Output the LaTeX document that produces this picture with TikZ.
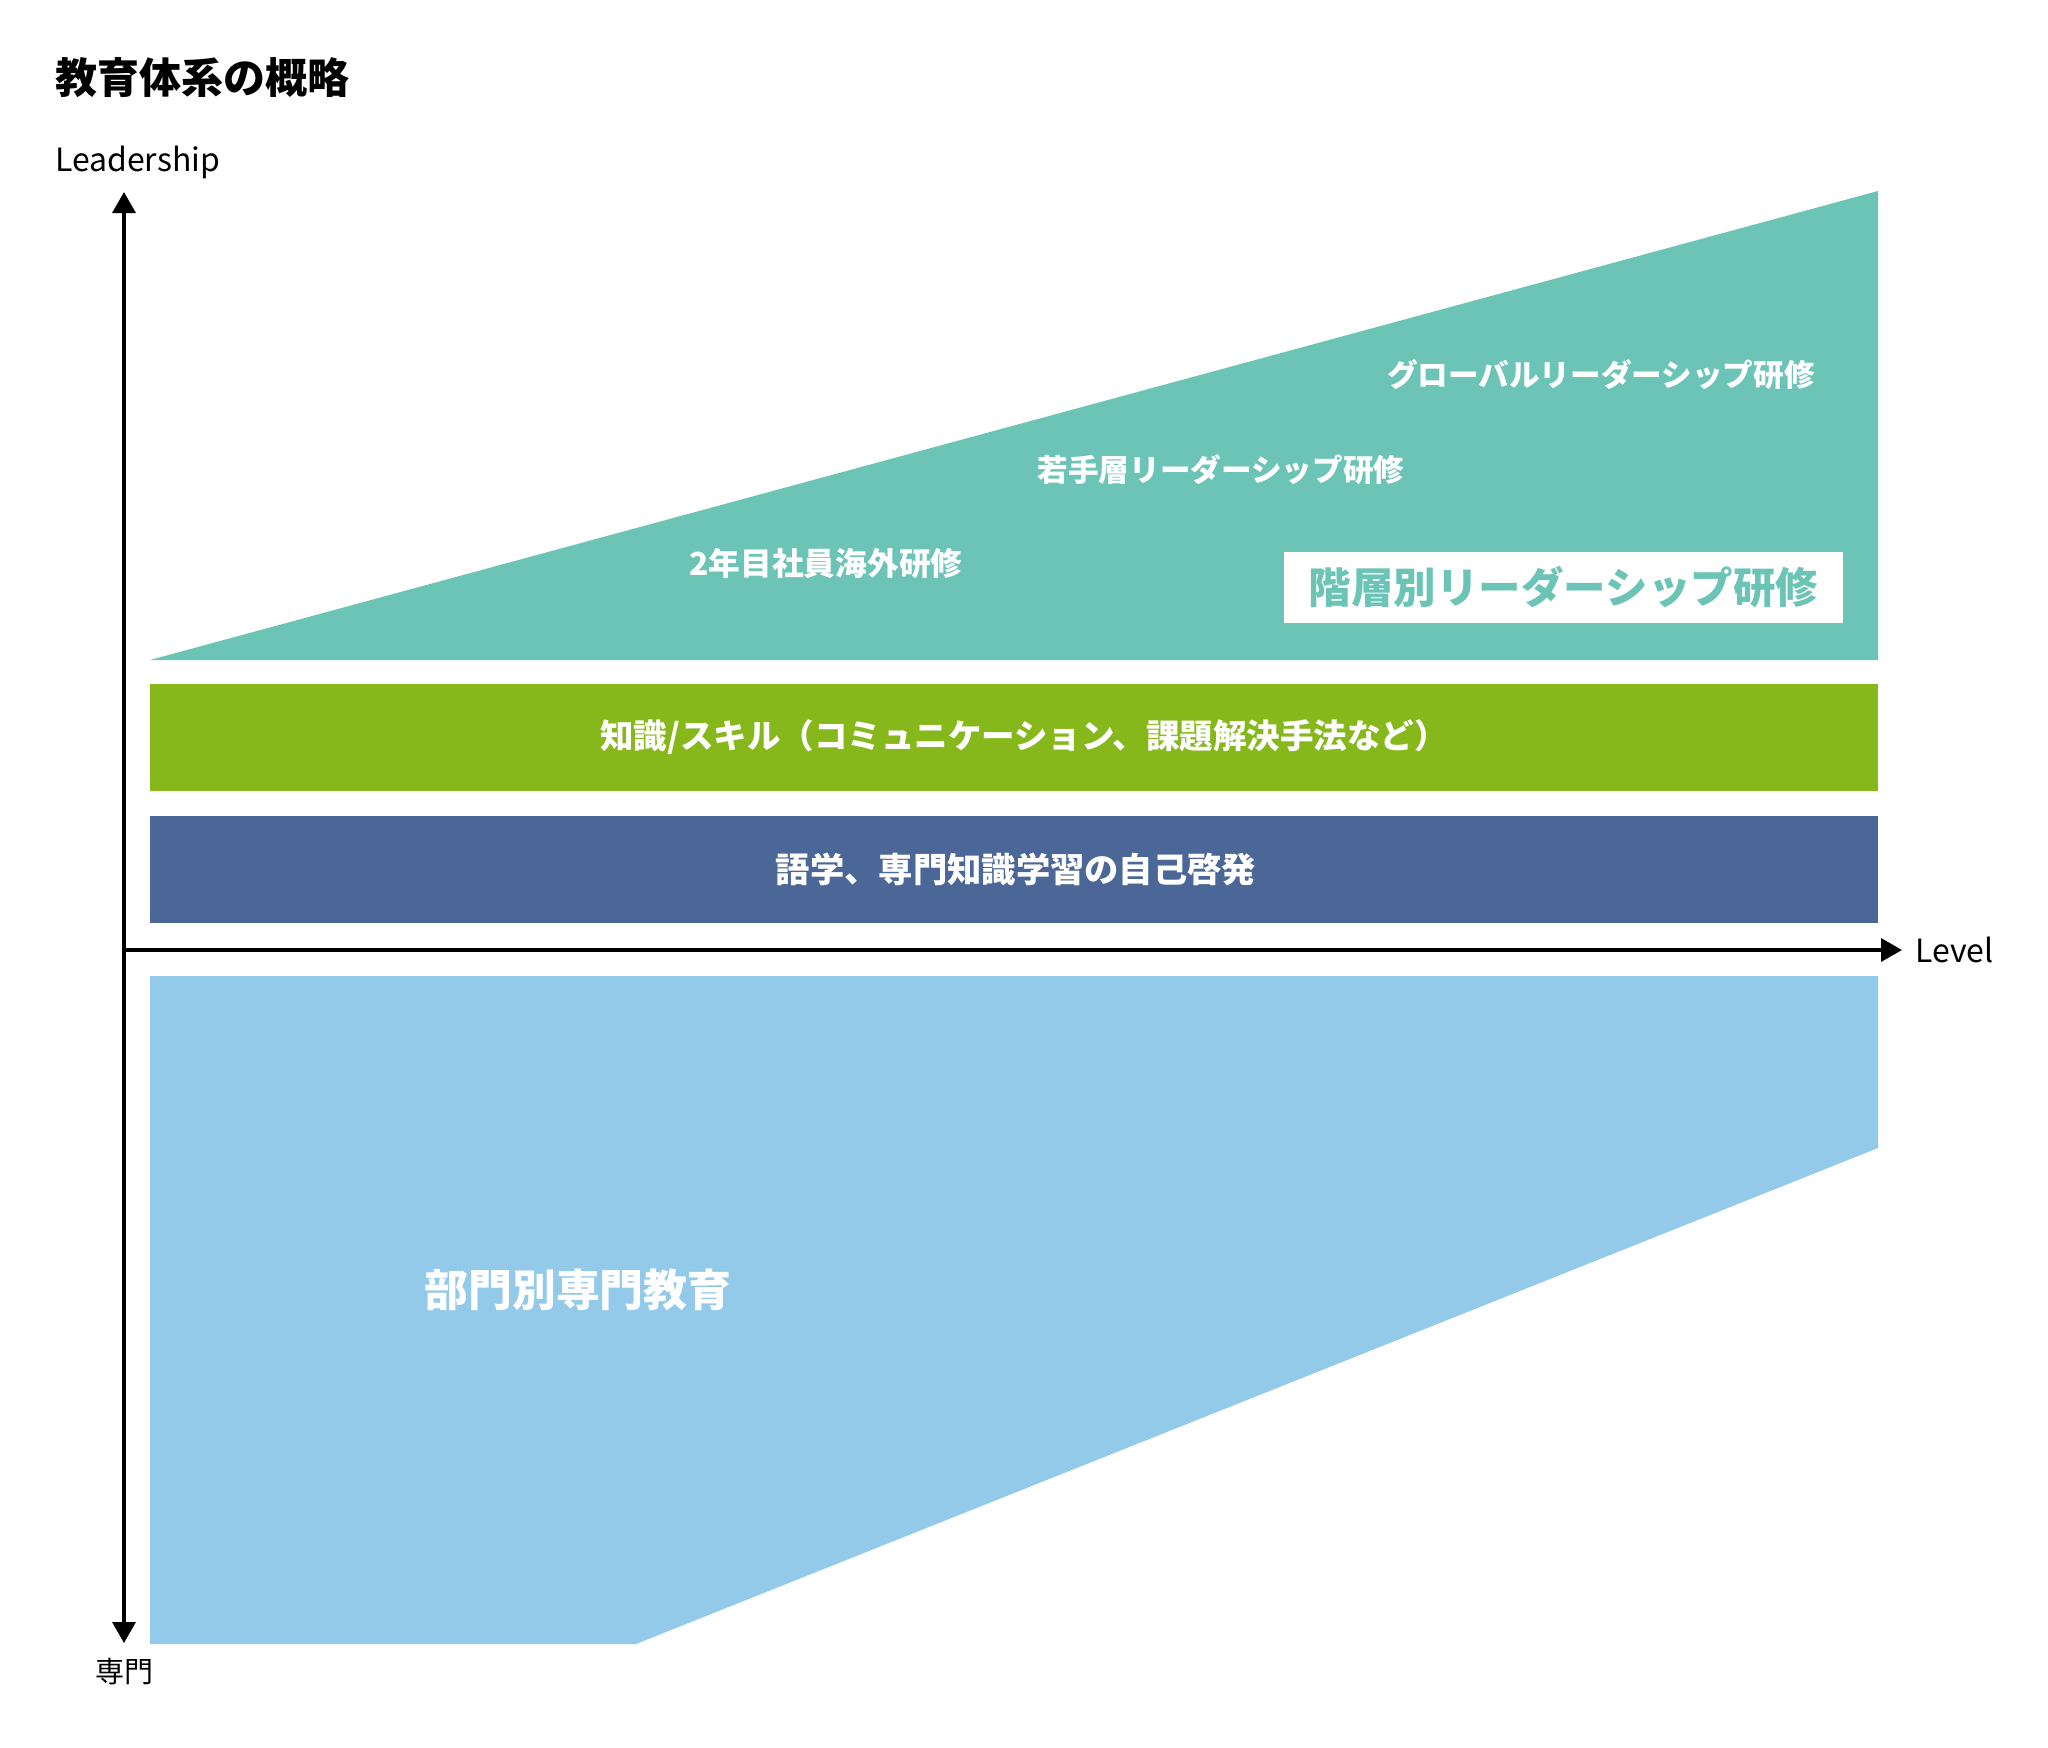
\documentclass[tikz,border=0pt]{standalone}
\usepackage{fontspec}
\setmainfont{Noto Sans CJK JP}
\usetikzlibrary{arrows.meta}
\definecolor{teal1}{HTML}{6CC4B6}
\definecolor{green1}{HTML}{86B81C}
\definecolor{navy1}{HTML}{4B6797}
\definecolor{sky1}{HTML}{93CAEA}
\tikzset{
  axisline/.style={line width=3.5pt, -{Triangle[length=21pt,width=23pt]}},
  whitelbl/.style={text=white, font=\fontsize{30.6}{36}\selectfont\bfseries, inner sep=0pt},
  barbox/.style={minimum width=1728pt, minimum height=107pt, inner sep=0pt},
  bartext/.style={text=white, inner sep=0pt, font=\fontsize{33.5}{38}\selectfont\bfseries},
  axislbl/.style={font=\fontsize{32}{38}\selectfont, inner sep=0pt},
}
\begin{document}
\begin{tikzpicture}[x=1pt,y=-1pt]
\useasboundingbox (0,0) rectangle (2048,1748);
% title
\node[anchor=west, inner sep=0pt, font=\fontsize{42}{46}\selectfont\bfseries] (title) at (55,78) {教育体系の概略};
% teal triangle
\fill[teal1] (150,660) -- (1878,191) -- (1878,660) -- cycle;
\node[whitelbl] (glob) at (1601,375) {グローバルリーダーシップ研修};
\node[whitelbl] (young) at (1221,470) {若手層リーダーシップ研修};
\node[whitelbl, font=\fontsize{31.7}{36}\selectfont\bfseries] (second) at (826,564) {2年目社員海外研修};
\node[fill=white, minimum width=559pt, minimum height=71pt, inner sep=0pt, text=teal1, font=\fontsize{42.5}{48}\selectfont\bfseries] (tier) at (1563.5,587.5) {階層別リーダーシップ研修};
% bars
\node[barbox, fill=green1] (skill) at (1014,737) {};
\node[bartext] (skilltxt) at (1024,737) {知識/スキル（コミュニケーション、課題解決手法など）};
\node[barbox, fill=navy1] (self) at (1014,869.5) {};
\node[bartext, font=\fontsize{34.3}{38}\selectfont\bfseries] (selftxt) at (1016,869.5) {語学、専門知識学習の自己啓発};
% light blue
\fill[sky1] (150,976) -- (1878,976) -- (1878,1148) -- (636,1644) -- (150,1644) -- cycle;
\node[text=white, inner sep=0pt, font=\fontsize{43.9}{48}\selectfont\bfseries] (dept) at (578,1290) {部門別専門教育};
% axes
\coordinate (origin) at (124,950);
\coordinate (top) at (124,192);
\coordinate (bottom) at (124,1643);
\coordinate (right) at (1902,950);
\draw[axisline] (origin) -- (top);
\draw[axisline] (origin) -- (bottom);
\draw[axisline] (origin) -- (right);
\node[axislbl, anchor=base west] (lead) at (55,171) {Leadership};
\node[axislbl, anchor=base west] (level) at (1915,962) {Level};
\node[axislbl, font=\fontsize{29}{34}\selectfont] (senmon) at (124,1672) {専門};
\end{tikzpicture}
\end{document}
